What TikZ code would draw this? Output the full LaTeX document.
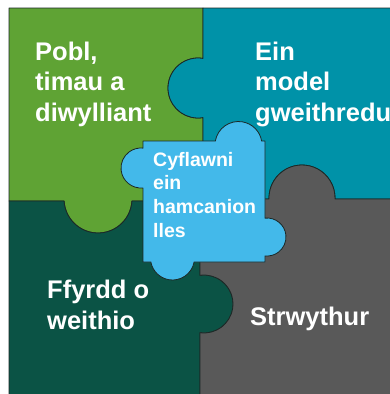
\documentclass[tikz,border=0pt]{standalone}
\usepackage{fontspec}
\setmainfont{Liberation Sans}
\definecolor{poblgreen}{RGB}{95,163,52}
\definecolor{modelteal}{RGB}{0,146,168}
\definecolor{ffyrddgreen}{RGB}{11,83,69}
\definecolor{strwgrey}{RGB}{89,89,89}
\definecolor{lleslblue}{RGB}{67,185,234}
\definecolor{edge}{RGB}{28,40,38}
\tikzset{
	piece/.style={draw=edge, line width=0.8pt, line join=round},
	bigtext/.style={text=white, inner sep=0pt, anchor=base west, align=left, font=\bfseries\fontsize{25.5}{30.5}\selectfont},
	smalltext/.style={bigtext, font=\bfseries\fontsize{19.5}{23.7}\selectfont},
}

\begin{document}
\begin{tikzpicture}[x=1pt, y=-1pt]
	\useasboundingbox (0,0) rectangle (390,394);
	\fill[white] (0,0) rectangle (390,394);
	\clip (0,0) rectangle (390,394);
	\draw[piece, fill=poblgreen] (9,8) -- (203,8) -- (203,58.42) arc[start angle=-80.4, end angle=-279.6, radius=30] -- (203,201) -- (131.94,201) arc[start angle=3.37, end angle=176.63, radius=34] -- (9,201) -- cycle;
	\draw[piece, fill=modelteal] (203,8) -- (396,8) -- (396,199) -- (334.98,199) arc[start angle=1.74, end angle=-181.74, radius=33] -- (203,199) -- (203,117.58) arc[start angle=80.4, end angle=279.6, radius=30] -- cycle;
	\draw[piece, fill=ffyrddgreen] (9,201) -- (64.06,201) arc[start angle=176.63, end angle=3.37, radius=34] -- (200,201) -- (200,275.28) arc[start angle=-97.93, end angle=97.93, radius=29] -- (200,400) -- (9,400) -- cycle;
	\draw[piece, fill=strwgrey] (200,199) -- (269.02,199) arc[start angle=178.26, end angle=361.74, radius=33] -- (396,199) -- (396,400) -- (200,400) -- (200,332.72) arc[start angle=97.93, end angle=-97.93, radius=29] -- cycle;
	\draw[piece, fill=lleslblue] (143,141) -- (215.34,141) arc[start angle=-170.2, end angle=-9.8, radius=23.5] -- (265,141) -- (265,218.11) arc[start angle=-96.04, end angle=96.04, radius=19] -- (265,262) -- (194.13,262) arc[start angle=10.48, end angle=169.52, radius=22] -- (143,262) -- (143,187.9) arc[start angle=84.26, end angle=275.74, radius=20] -- cycle;

	\node[bigtext] (pobl) at (35,121) {Pobl,\\timau a\\diwylliant};
	\node[bigtext] (model) at (255,121) {Ein\\model\\gweithredu};
	\node[smalltext] (cyflawni) at (153,237.1) {Cyflawni\\ein\\hamcanion\\lles};
	\node[bigtext] (ffyrdd) at (47,329) {Ffyrdd o\\weithio};
	\node[bigtext] (strwythur) at (250,325) {Strwythur};
\end{tikzpicture}
\end{document}
